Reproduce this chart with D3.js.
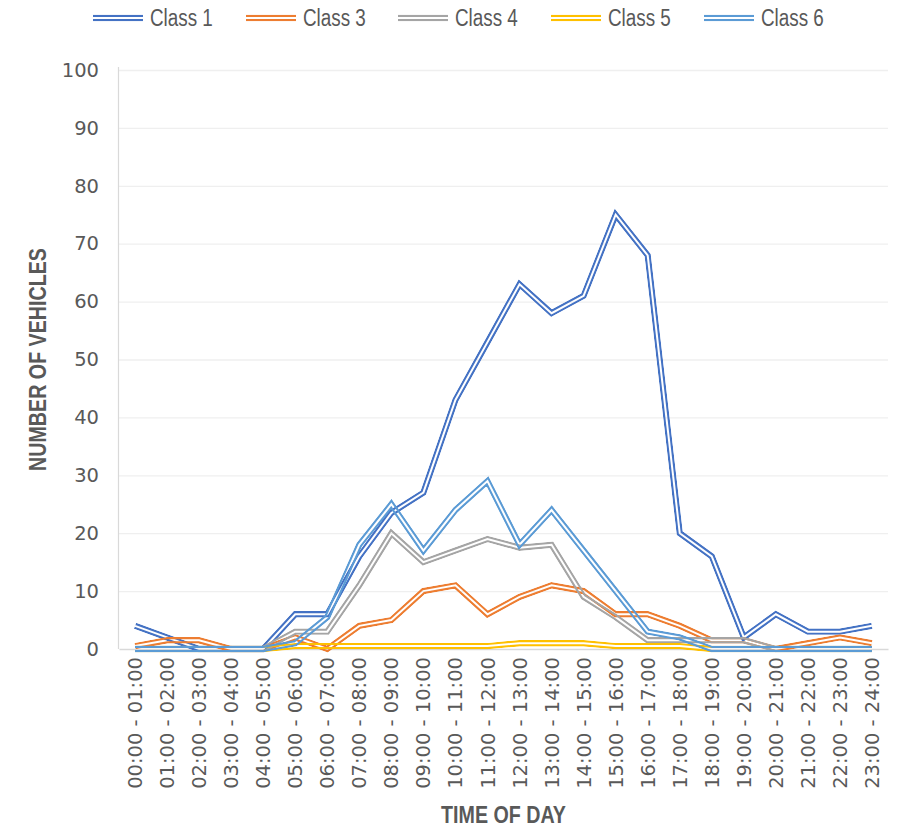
<!DOCTYPE html>
<html>
<head>
<meta charset="utf-8">
<script src="https://cdn.jsdelivr.net/npm/d3@7/dist/d3.min.js"></script>
<style>
  html, body { margin: 0; padding: 0; background: #fff; }
  svg { display: block; }
</style>
</head>
<body>
<svg id="chart" width="905" height="830"></svg>
<script>
// Hourly vehicle counts by class
const timeSlots = [
  "00:00 - 01:00", "01:00 - 02:00", "02:00 - 03:00", "03:00 - 04:00",
  "04:00 - 05:00", "05:00 - 06:00", "06:00 - 07:00", "07:00 - 08:00",
  "08:00 - 09:00", "09:00 - 10:00", "10:00 - 11:00", "11:00 - 12:00",
  "12:00 - 13:00", "13:00 - 14:00", "14:00 - 15:00", "15:00 - 16:00",
  "16:00 - 17:00", "17:00 - 18:00", "18:00 - 19:00", "19:00 - 20:00",
  "20:00 - 21:00", "21:00 - 22:00", "22:00 - 23:00", "23:00 - 24:00"
];
const seriesNames = ["Class 1", "Class 3", "Class 4", "Class 5", "Class 6"];
const class1 = [4, 2, 0, 0, 0, 6, 6, 16, 23.5, 27, 43, 53, 63, 58, 61, 75, 68, 20, 16, 2, 6, 3, 3, 4];
const class3 = [0.5, 1.5, 1.5, 0, 0, 2, 0, 4, 5, 10, 11, 6, 9, 11, 10, 6, 6, 4, 1.5, 1.5, 0, 1, 2, 1];
const class4 = [0, 0, 0, 0, 0, 3, 3, 11, 20, 15, 17, 19, 17.5, 18, 9, 5.5, 1.5, 1.5, 1.5, 1.5, 0, 0, 0, 0];
const class5 = [0, 0, 0, 0, 0, 0.5, 0.5, 0.5, 0.5, 0.5, 0.5, 0.5, 1, 1, 1, 0.5, 0.5, 0.5, 0, 0, 0, 0, 0, 0];
const class6 = [0, 0, 0, 0, 0, 1, 5.5, 18, 25, 17, 24, 29, 18, 24, 17, 10, 3, 2, 0, 0, 0, 0, 0, 0];
const seriesColors = ["#4472C4", "#ED7D31", "#A5A5A5", "#FFC000", "#5B9BD5"];
const yTicks = [0, 10, 20, 30, 40, 50, 60, 70, 80, 90, 100];

const series = [class1, class3, class4, class5, class6].map((values, i) => ({
  name: seriesNames[i], color: seriesColors[i], values
}));

const svg = d3.select("#chart");
const defs = svg.append("defs");
const plotLeft = 119, plotRight = 888, plotTop = 70, plotBottom = 649;
const textColor = "#595959";
const tickFont = "'DejaVu Sans', sans-serif";
const titleFont = "'Liberation Sans', Arial, sans-serif";
const narrow = 0.82; // horizontal squeeze for the condensed title/legend lettering

const x = d3.scaleBand().domain(timeSlots).range([plotLeft, plotRight]).paddingInner(0).paddingOuter(0);
const y = d3.scaleLinear().domain([0, 100]).range([plotBottom, plotTop]);
const cx = d => x(d) + x.bandwidth() / 2;

// Horizontal gridlines and value labels
const yAxis = svg.append("g")
  .attr("transform", `translate(${plotLeft},0)`)
  .call(d3.axisLeft(y).tickValues(yTicks).tickSize(-(plotRight - plotLeft)).tickPadding(20).tickFormat(d3.format("d")));
yAxis.select(".domain").remove();
yAxis.selectAll(".tick line")
  .attr("stroke", d => d === 0 ? "none" : "#efefef")
  .attr("stroke-width", 1.3);
yAxis.selectAll(".tick text")
  .attr("fill", textColor)
  .style("font-family", tickFont)
  .style("font-size", "19.5px");

// Value axis line
svg.append("line").attr("x1", plotLeft - 0.5).attr("x2", plotLeft - 0.5).attr("y1", plotTop - 3).attr("y2", plotBottom)
  .attr("stroke", "#d9d9d9").attr("stroke-width", 1.2);

// Category axis
const xAxis = svg.append("g")
  .attr("transform", `translate(0,${plotBottom})`)
  .call(d3.axisBottom(x).tickSize(0).tickPadding(0));
xAxis.select(".domain").attr("stroke", "#d9d9d9").attr("stroke-width", 1.4);
xAxis.selectAll(".tick text")
  .attr("fill", textColor)
  .style("font-family", tickFont)
  .style("font-size", "19.5px")
  .attr("text-anchor", "end")
  .attr("transform", "translate(0,8) rotate(-90)")
  .attr("x", 0).attr("y", 0).attr("dy", "0.36em");

// Double-stroke series lines: a mask carves out the centre of each thick stroke
const outerW = 6.4, innerW = 2.0;
const line = d3.line().x((v, i) => cx(timeSlots[i])).y(v => y(v));

function doubleStroke(parent, d, color, id) {
  const m = defs.append("mask").attr("id", id)
    .attr("maskUnits", "userSpaceOnUse")
    .attr("x", 0).attr("y", 0).attr("width", 905).attr("height", 830);
  m.append("path").attr("d", d).attr("fill", "none").attr("stroke", "#fff")
    .attr("stroke-width", outerW).attr("stroke-linejoin", "miter").attr("stroke-miterlimit", 10);
  m.append("path").attr("d", d).attr("fill", "none").attr("stroke", "#000")
    .attr("stroke-width", innerW).attr("stroke-linejoin", "miter").attr("stroke-miterlimit", 10);
  parent.append("path").attr("d", d).attr("fill", "none").attr("stroke", color)
    .attr("stroke-width", outerW).attr("stroke-linejoin", "miter").attr("stroke-miterlimit", 10)
    .attr("mask", `url(#${id})`);
}

const linesG = svg.append("g").attr("class", "series");
series.forEach((s, i) => doubleStroke(linesG, line(s.values), s.color, `mask-series-${i}`));

// Legend
const legendG = svg.append("g").attr("class", "legend");
const legendX = [93, 246, 398, 551, 704];
series.forEach((s, i) => {
  const lx = legendX[i], ly = 18;
  doubleStroke(legendG, `M${lx},${ly}H${lx + 50}`, s.color, `mask-legend-${i}`);
  legendG.append("text")
    .attr("transform", `translate(${lx + 57},${ly}) scale(${narrow},1)`)
    .attr("dy", "0.35em")
    .attr("fill", textColor)
    .style("font-family", titleFont)
    .style("font-size", "23px")
    .text(s.name);
});

// Axis titles
svg.append("text")
  .attr("transform", `translate(${(plotLeft + plotRight) / 2},815) scale(${narrow},1)`)
  .attr("dy", "0.35em")
  .attr("text-anchor", "middle")
  .attr("fill", textColor)
  .style("font-family", titleFont).style("font-weight", "bold").style("font-size", "24px")
  .text("TIME OF DAY");
svg.append("text")
  .attr("transform", `translate(38,${(plotTop + plotBottom) / 2}) rotate(-90) scale(${narrow},1)`)
  .attr("dy", "0.35em")
  .attr("text-anchor", "middle")
  .attr("fill", textColor)
  .style("font-family", titleFont).style("font-weight", "bold").style("font-size", "24px")
  .text("NUMBER OF VEHICLES");
</script>
</body>
</html>
